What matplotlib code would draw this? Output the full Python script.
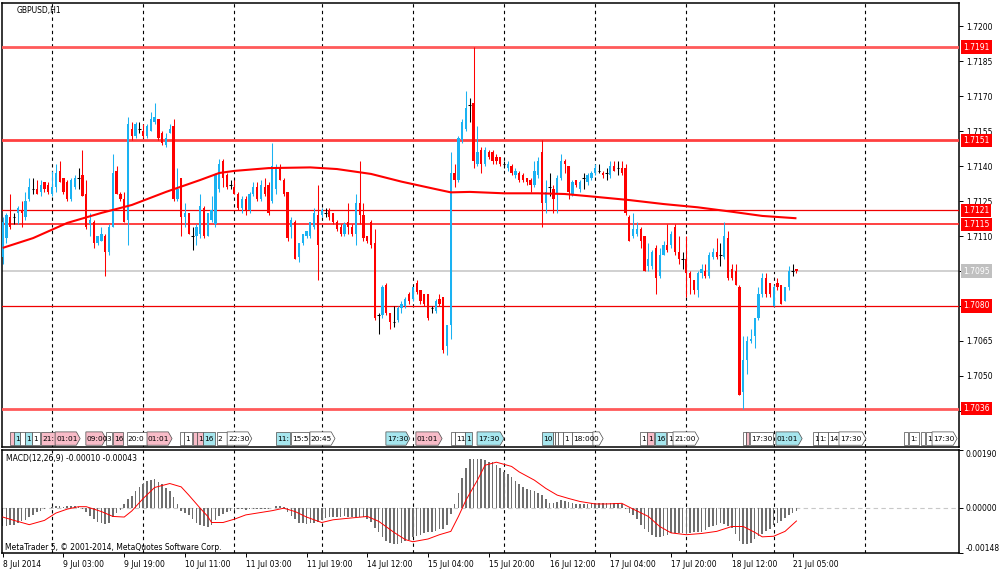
import numpy as np
import matplotlib
matplotlib.use("Agg")
import matplotlib.pyplot as plt
from matplotlib.patches import Polygon

plt.rcParams['font.family'] = ['DejaVu Sans']
plt.rcParams['font.size'] = 5.5

# GBPUSD H1 bars, bar 0 = 8 Jul 2014 11:00 ... bar 209 = 21 Jul 2014 06:00
opens = [
    1.7101, 1.7109, 1.7118, 1.7118, 1.7120, 1.7121, 1.7118, 1.7126, 1.7130, 1.7130,
    1.7129, 1.7133, 1.7132, 1.7128, 1.7131, 1.7138, 1.7135, 1.7133, 1.7126, 1.7131,
    1.7135, 1.7136, 1.7128, 1.7115, 1.7116, 1.7107, 1.7108, 1.7110, 1.7103, 1.7114,
    1.7138, 1.7128, 1.7126, 1.7117, 1.7156, 1.7153, 1.7156, 1.7155, 1.7153, 1.7155,
    1.7159, 1.7160, 1.7154, 1.7149, 1.7154, 1.7157, 1.7126, 1.7135, 1.7118, 1.7120,
    1.7110, 1.7110, 1.7111, 1.7122, 1.7110, 1.7117, 1.7115, 1.7130, 1.7142, 1.7136,
    1.7132, 1.7131, 1.7128, 1.7122, 1.7126, 1.7121, 1.7128, 1.7131, 1.7126, 1.7131,
    1.7132, 1.7125, 1.7130, 1.7139, 1.7134, 1.7129, 1.7114, 1.7116, 1.7101, 1.7107,
    1.7110, 1.7110, 1.7114, 1.7119, 1.7119, 1.7120, 1.7121, 1.7120, 1.7116, 1.7114,
    1.7111, 1.7116, 1.7114, 1.7111, 1.7124, 1.7119, 1.7110, 1.7116, 1.7107, 1.7076,
    1.7076, 1.7089, 1.7077, 1.7073, 1.7074, 1.7079, 1.7080, 1.7085, 1.7083, 1.7090,
    1.7087, 1.7085, 1.7085, 1.7079, 1.7078, 1.7083, 1.7084, 1.7063, 1.7072, 1.7137,
    1.7134, 1.7151, 1.7156, 1.7166, 1.7167, 1.7141, 1.7147, 1.7141, 1.7146, 1.7146,
    1.7144, 1.7144, 1.7141, 1.7139, 1.7140, 1.7136, 1.7137, 1.7136, 1.7135, 1.7134,
    1.7132, 1.7136, 1.7146, 1.7124, 1.7131, 1.7130, 1.7128, 1.7135, 1.7142, 1.7140,
    1.7128, 1.7134, 1.7130, 1.7135, 1.7133, 1.7135, 1.7137, 1.7138, 1.7137, 1.7137,
    1.7136, 1.7140, 1.7139, 1.7139, 1.7139, 1.7118, 1.7110, 1.7111, 1.7113, 1.7110,
    1.7097, 1.7097, 1.7105, 1.7093, 1.7102, 1.7106, 1.7106, 1.7114, 1.7103, 1.7100,
    1.7100, 1.7094, 1.7091, 1.7087, 1.7094, 1.7095, 1.7093, 1.7101, 1.7103, 1.7102,
    1.7101, 1.7109, 1.7096, 1.7095, 1.7088, 1.7043, 1.7057, 1.7065, 1.7067, 1.7075,
    1.7085, 1.7092, 1.7090, 1.7080, 1.7090, 1.7089, 1.7082, 1.7088, 1.7095, 1.7096,
]
highs = [
    1.7118, 1.7120, 1.7128, 1.7120, 1.7123, 1.7125, 1.7129, 1.7135, 1.7135, 1.7134,
    1.7134, 1.7133, 1.7133, 1.7138, 1.7141, 1.7142, 1.7135, 1.7134, 1.7135, 1.7136,
    1.7139, 1.7147, 1.7134, 1.7120, 1.7117, 1.7110, 1.7114, 1.7111, 1.7115, 1.7145,
    1.7140, 1.7129, 1.7129, 1.7161, 1.7159, 1.7159, 1.7159, 1.7158, 1.7158, 1.7163,
    1.7167, 1.7160, 1.7155, 1.7154, 1.7158, 1.7160, 1.7139, 1.7135, 1.7124, 1.7120,
    1.7114, 1.7115, 1.7128, 1.7123, 1.7120, 1.7127, 1.7137, 1.7143, 1.7143, 1.7137,
    1.7134, 1.7134, 1.7129, 1.7127, 1.7127, 1.7129, 1.7133, 1.7133, 1.7134, 1.7135,
    1.7133, 1.7150, 1.7141, 1.7141, 1.7135, 1.7129, 1.7118, 1.7117, 1.7107, 1.7111,
    1.7112, 1.7116, 1.7122, 1.7132, 1.7122, 1.7122, 1.7122, 1.7120, 1.7117, 1.7115,
    1.7116, 1.7124, 1.7115, 1.7128, 1.7142, 1.7124, 1.7110, 1.7117, 1.7113, 1.7077,
    1.7089, 1.7090, 1.7077, 1.7080, 1.7080, 1.7082, 1.7084, 1.7086, 1.7088, 1.7091,
    1.7087, 1.7085, 1.7085, 1.7080, 1.7083, 1.7085, 1.7084, 1.7072, 1.7146, 1.7141,
    1.7153, 1.7160, 1.7172, 1.7169, 1.7191, 1.7157, 1.7148, 1.7148, 1.7147, 1.7147,
    1.7145, 1.7144, 1.7142, 1.7142, 1.7141, 1.7139, 1.7138, 1.7137, 1.7135, 1.7135,
    1.7142, 1.7144, 1.7151, 1.7134, 1.7137, 1.7132, 1.7136, 1.7145, 1.7143, 1.7140,
    1.7134, 1.7134, 1.7134, 1.7137, 1.7137, 1.7138, 1.7141, 1.7141, 1.7138, 1.7139,
    1.7142, 1.7142, 1.7142, 1.7142, 1.7141, 1.7119, 1.7120, 1.7116, 1.7114, 1.7110,
    1.7107, 1.7104, 1.7106, 1.7105, 1.7108, 1.7115, 1.7112, 1.7115, 1.7110, 1.7103,
    1.7110, 1.7095, 1.7091, 1.7095, 1.7098, 1.7098, 1.7103, 1.7105, 1.7109, 1.7107,
    1.7116, 1.7112, 1.7098, 1.7098, 1.7089, 1.7067, 1.7067, 1.7070, 1.7075, 1.7088,
    1.7094, 1.7094, 1.7090, 1.7089, 1.7092, 1.7089, 1.7088, 1.7097, 1.7098, 1.7096,
]
lows = [
    1.7098, 1.7107, 1.7113, 1.7115, 1.7115, 1.7114, 1.7117, 1.7125, 1.7128, 1.7128,
    1.7127, 1.7129, 1.7128, 1.7127, 1.7129, 1.7133, 1.7128, 1.7125, 1.7125, 1.7130,
    1.7130, 1.7127, 1.7113, 1.7110, 1.7105, 1.7106, 1.7108, 1.7093, 1.7102, 1.7114,
    1.7128, 1.7125, 1.7116, 1.7106, 1.7151, 1.7152, 1.7154, 1.7152, 1.7152, 1.7155,
    1.7158, 1.7151, 1.7149, 1.7148, 1.7154, 1.7125, 1.7125, 1.7110, 1.7114, 1.7111,
    1.7104, 1.7106, 1.7109, 1.7109, 1.7110, 1.7116, 1.7114, 1.7129, 1.7131, 1.7130,
    1.7130, 1.7128, 1.7121, 1.7120, 1.7119, 1.7120, 1.7127, 1.7125, 1.7125, 1.7127,
    1.7119, 1.7124, 1.7128, 1.7134, 1.7127, 1.7108, 1.7109, 1.7100, 1.7099, 1.7106,
    1.7109, 1.7109, 1.7113, 1.7091, 1.7118, 1.7118, 1.7117, 1.7115, 1.7112, 1.7110,
    1.7110, 1.7111, 1.7110, 1.7106, 1.7115, 1.7108, 1.7107, 1.7105, 1.7074, 1.7068,
    1.7075, 1.7076, 1.7070, 1.7071, 1.7073, 1.7077, 1.7079, 1.7081, 1.7082, 1.7085,
    1.7081, 1.7080, 1.7074, 1.7077, 1.7077, 1.7080, 1.7060, 1.7059, 1.7066, 1.7131,
    1.7133, 1.7150, 1.7155, 1.7159, 1.7139, 1.7140, 1.7137, 1.7140, 1.7143, 1.7141,
    1.7141, 1.7140, 1.7139, 1.7138, 1.7136, 1.7135, 1.7133, 1.7133, 1.7132, 1.7129,
    1.7131, 1.7135, 1.7114, 1.7120, 1.7127, 1.7120, 1.7120, 1.7134, 1.7137, 1.7126,
    1.7127, 1.7131, 1.7129, 1.7130, 1.7132, 1.7134, 1.7136, 1.7137, 1.7135, 1.7134,
    1.7135, 1.7138, 1.7136, 1.7136, 1.7119, 1.7108, 1.7109, 1.7110, 1.7105, 1.7095,
    1.7095, 1.7096, 1.7085, 1.7092, 1.7102, 1.7103, 1.7105, 1.7102, 1.7098, 1.7096,
    1.7084, 1.7085, 1.7085, 1.7084, 1.7092, 1.7092, 1.7092, 1.7100, 1.7100, 1.7097,
    1.7100, 1.7091, 1.7091, 1.7089, 1.7042, 1.7036, 1.7051, 1.7064, 1.7062, 1.7074,
    1.7084, 1.7084, 1.7084, 1.7080, 1.7087, 1.7081, 1.7082, 1.7087, 1.7093, 1.7094,
]
closes = [
    1.7116, 1.7119, 1.7114, 1.7118, 1.7122, 1.7120, 1.7125, 1.7131, 1.7130, 1.7128,
    1.7132, 1.7130, 1.7129, 1.7131, 1.7137, 1.7133, 1.7129, 1.7126, 1.7134, 1.7135,
    1.7135, 1.7127, 1.7114, 1.7117, 1.7107, 1.7110, 1.7111, 1.7103, 1.7114, 1.7137,
    1.7128, 1.7126, 1.7116, 1.7158, 1.7153, 1.7158, 1.7156, 1.7153, 1.7157, 1.7160,
    1.7161, 1.7152, 1.7150, 1.7152, 1.7156, 1.7126, 1.7130, 1.7118, 1.7120, 1.7111,
    1.7110, 1.7114, 1.7123, 1.7110, 1.7120, 1.7121, 1.7136, 1.7141, 1.7135, 1.7131,
    1.7132, 1.7128, 1.7122, 1.7126, 1.7121, 1.7128, 1.7131, 1.7126, 1.7132, 1.7128,
    1.7120, 1.7140, 1.7139, 1.7134, 1.7128, 1.7109, 1.7117, 1.7100, 1.7107, 1.7111,
    1.7112, 1.7116, 1.7120, 1.7106, 1.7121, 1.7120, 1.7118, 1.7116, 1.7113, 1.7111,
    1.7115, 1.7114, 1.7111, 1.7124, 1.7119, 1.7109, 1.7108, 1.7106, 1.7075, 1.7076,
    1.7088, 1.7077, 1.7073, 1.7073, 1.7079, 1.7081, 1.7083, 1.7082, 1.7088, 1.7086,
    1.7082, 1.7081, 1.7075, 1.7079, 1.7082, 1.7081, 1.7061, 1.7072, 1.7137, 1.7134,
    1.7152, 1.7159, 1.7165, 1.7166, 1.7142, 1.7146, 1.7141, 1.7147, 1.7144, 1.7142,
    1.7142, 1.7141, 1.7141, 1.7141, 1.7137, 1.7138, 1.7134, 1.7134, 1.7133, 1.7132,
    1.7138, 1.7142, 1.7124, 1.7129, 1.7131, 1.7126, 1.7135, 1.7142, 1.7141, 1.7129,
    1.7133, 1.7132, 1.7133, 1.7135, 1.7136, 1.7137, 1.7139, 1.7138, 1.7136, 1.7137,
    1.7140, 1.7138, 1.7139, 1.7137, 1.7120, 1.7108, 1.7113, 1.7113, 1.7108, 1.7095,
    1.7100, 1.7103, 1.7092, 1.7102, 1.7106, 1.7104, 1.7111, 1.7103, 1.7100, 1.7100,
    1.7094, 1.7092, 1.7087, 1.7094, 1.7096, 1.7093, 1.7102, 1.7103, 1.7101, 1.7102,
    1.7110, 1.7092, 1.7092, 1.7089, 1.7042, 1.7057, 1.7065, 1.7066, 1.7075, 1.7085,
    1.7092, 1.7085, 1.7085, 1.7088, 1.7088, 1.7081, 1.7088, 1.7095, 1.7095, 1.7095,
]

# moving average read at a few bars
ma_bars = [0, 8, 17, 26, 34, 43, 52, 57, 61, 70, 81, 88, 97, 105, 114, 118, 123,
           132, 141, 148, 156, 165, 174, 183, 192, 200, 209]
ma_vals = [1.71049, 1.71091, 1.71156, 1.71199, 1.71233, 1.71289, 1.71340, 1.71370,
           1.71379, 1.71391, 1.71394, 1.71387, 1.71366, 1.71333, 1.71301, 1.71287,
           1.71289, 1.71283, 1.71283, 1.71280, 1.71268, 1.71254, 1.71237, 1.71223,
           1.71204, 1.71186, 1.71176]

levels = [1.7191, 1.7151, 1.7121, 1.7115, 1.7080, 1.7036]
last_price = 1.7095
price_ticks = [1.7200, 1.7185, 1.7170, 1.7155, 1.7140, 1.7125, 1.7110, 1.7095,
               1.7080, 1.7065, 1.7050, 1.7035]

# MACD main (histogram), in units of 1e-5
macd_hist = [
    -58, -58, -57, -55, -49, -43, -39, -30, -22, -15,
    -10, -4, -1, 2, 5, 6, 4, 7, 6, 5,
    4, -3, -13, -27, -38, -45, -50, -52, -48, -30,
    -17, -6, 12, 28, 40, 55, 70, 80, 87, 92,
    94, 86, 78, 66, 56, 36, 14, -10, -18, -24,
    -38, -48, -55, -60, -62, -57, -40, -28, -20, -15,
    -10, -7, -4, -5, -6, -5, -3, -4, -3, -2,
    -2, 0, 5, 6, 2, -13, -25, -38, -48, -51,
    -52, -50, -48, -46, -40, -33, -30, -29, -29, -29,
    -28, -29, -30, -29, -30, -31, -35, -45, -65, -78,
    -95, -108, -116, -120, -118, -115, -110, -104, -97, -93,
    -90, -83, -80, -78, -75, -70, -68, -55, -20, 13,
    49, 97, 130, 159, 160, 159, 159, 156, 152, 150,
    140, 130, 118, 110, 101, 88, 78, 68, 62, 58,
    54, 48, 42, 29, 16, 16, 20, 26, 23, 18,
    15, 13, 13, 13, 14, 16, 16, 16, 16, 16,
    15, 16, 16, 13, -4, -16, -24, -38, -55, -68,
    -80, -88, -94, -94, -93, -88, -84, -82, -81, -81,
    -81, -81, -80, -79, -78, -72, -64, -60, -55, -50,
    -52, -60, -66, -85, -108, -118, -117, -115, -103, -92,
    -85, -76, -68, -55, -48, -42, -33, -24, -16, -10,
]
# signal line, read at a few bars, units of 1e-5
signal_bars = [0, 3, 7, 11, 14, 17, 20, 22, 26, 29, 32, 34, 37, 40, 44, 47, 49, 52,
               54, 55, 58, 61, 64, 68, 71, 74, 77, 80, 84, 87, 91, 96, 99, 103, 106,
               108, 112, 115, 118, 120, 122, 125, 127, 130, 134, 136, 140, 143, 146,
               149, 152, 156, 159, 163, 166, 170, 173, 176, 180, 184, 188, 192, 195,
               198, 200, 203, 206, 209]
signal_vals = [-30, -41, -55, -41, -17, -4, 4, 4, -12, -28, -30, -10, 31, 67, 80, 69,
               42, -1, -28, -48, -48, -37, -23, -15, -9, -1, -12, -30, -48, -39, -34,
               -28, -44, -80, -104, -111, -102, -88, -77, -28, 26, 91, 140, 150, 136,
               118, 91, 64, 42, 31, 21, 13, 13, 15, -4, -28, -61, -82, -88, -84, -77,
               -61, -61, -80, -95, -93, -77, -43]

time_bars = [0, 16, 32, 48, 64, 80, 96, 112, 128, 144, 160, 176, 192, 208]
time_labels = ['8 Jul 2014', '9 Jul 03:00', '9 Jul 19:00', '10 Jul 11:00',
               '11 Jul 03:00', '11 Jul 19:00', '14 Jul 12:00', '15 Jul 04:00',
               '15 Jul 20:00', '16 Jul 12:00', '17 Jul 04:00', '17 Jul 20:00',
               '18 Jul 12:00', '21 Jul 05:00']
day_bars = [13, 37, 61, 84, 108, 132, 156, 180, 203, 227]

# calendar event tags along the bottom of the price window
ev_start = [1.8, 3.0, 4.6, 5.9, 7.7, 10.1, 13.8, 21.9, 27.2, 29.0, 32.7, 38.0,
            46.7, 47.7, 50.1, 51.2, 52.7, 56.4, 59.1, 72.0, 75.9, 80.9, 100.9,
            108.8, 118.0, 119.1, 121.7, 124.9, 142.0, 144.9, 145.5, 146.2, 147.5,
            149.9, 155.4, 167.8, 169.6, 171.7, 174.9, 176.5, 194.9, 195.7, 196.8,
            203.6, 213.4, 214.7, 217.3, 220.2, 237.3, 238.6, 241.8, 243.1, 244.7]
ev_end = [3.0, 4.6, 5.9, 7.7, 9.8, 13.8, 20.4, 27.2, 28.8, 31.7, 38.0, 44.6,
          47.7, 49.9, 51.2, 52.7, 55.9, 59.1, 65.6, 75.7, 80.6, 87.5, 107.2,
          115.7, 119.1, 121.7, 123.6, 132.0, 144.9, 145.5, 146.2, 147.5, 149.9,
          155.4, 158.1, 169.6, 171.5, 174.6, 176.5, 183.3, 195.7, 196.5, 202.8,
          210.5, 214.7, 217.3, 220.2, 227.3, 238.4, 241.3, 242.8, 244.7, 251.3]
ev_text = ['', '1', '', '1', '1', '21:', '01:01', '09:00', '3', '16', '20:0', '01:01',
           '', '1', '', '1', '16', '2', '22:30', '11:', '15:5', '20:45', '17:30',
           '01:01', '', '11', '1', '17:30', '10', '', '', '', '1',
           '18:00', '0', '1', '1', '16', '1', '21:00', '', '', '17:30',
           '01:01', '1', '1:', '14', '17:30', '', '1:', '', '1', '17:30']
ev_kind = ['p', 'b', 'w', 'b', 'w', 'p', 'p', 'p', 'w', 'p', 'w', 'p',
           'w', 'w', 'p', 'p', 'b', 'w', 'w', 'b', 'w', 'w', 'b',
           'p', 'w', 'w', 'b', 'b', 'b', 'w', 'w', 'w', 'w',
           'w', 'w', 'w', 'p', 'b', 'w', 'w', 'w', 'p', 'w',
           'b', 'w', 'w', 'w', 'w', 'w', 'w', 'w', 'w', 'w']
ev_arrow = [0, 0, 0, 0, 0, 0, 1, 1, 0, 0, 0, 1,
            0, 0, 0, 0, 0, 0, 1, 0, 0, 1, 1,
            1, 0, 0, 0, 1, 0, 0, 0, 0, 0,
            0, 1, 0, 0, 0, 0, 1, 0, 0, 0,
            1, 0, 0, 0, 1, 0, 0, 0, 0, 1]

BULL = '#1AB2F2'
BEAR = '#FF0000'
EV_COLORS = {'p': '#F8BCC8', 'b': '#A6E6EE', 'w': '#FFFFFF'}

W, H = 1000, 574
def px_box(l, t, r, b):
    return [l / W, 1 - b / H, (r - l) / W, (b - t) / H]

fig = plt.figure(figsize=(10, 5.74), dpi=100)
ax = fig.add_axes(px_box(2, 3, 959, 447))
mx = fig.add_axes(px_box(2, 450, 959, 553), sharex=ax)

o = np.array(opens)
h = np.array(highs)
l = np.array(lows)
c = np.array(closes)
idx = np.arange(len(c))
up = c > o
dn = c < o
dj = ~(up | dn)

for mask, col in ((up, BULL), (dn, BEAR), (dj, 'black')):
    ax.vlines(idx[mask], l[mask], h[mask], color=col, lw=0.75, zorder=4)
body_bot = np.minimum(o, c)
body_h = np.maximum(np.abs(c - o), 0.00005)
ax.bar(idx[up], body_h[up], bottom=body_bot[up], width=0.6, color=BULL, lw=0, zorder=4)
ax.bar(idx[dn], body_h[dn], bottom=body_bot[dn], width=0.6, color=BEAR, lw=0, zorder=4)
ax.hlines(c[dj], idx[dj] - 0.35, idx[dj] + 0.35, color='black', lw=0.75, zorder=4)

ax.plot(ma_bars, ma_vals, color='#FF0000', lw=1.5, zorder=5, solid_capstyle='butt')

# horizontal levels
level_lw = {1.7191: 2.0, 1.7151: 2.0, 1.7121: 0.9, 1.7115: 1.2, 1.7080: 0.9, 1.7036: 2.0}
level_col = {1.7191: '#FF5A5A', 1.7151: '#FF4040', 1.7121: '#F00000', 1.7115: '#FF2020',
             1.7080: '#F00000', 1.7036: '#FF5A5A'}
for lv in levels:
    ax.axhline(lv, color=level_col[lv], lw=level_lw[lv], zorder=3)
ax.axhline(last_price, color='#C8C8C8', lw=1.2, zorder=2)

ylab = ax.get_yaxis_transform()
for lv in levels:
    ax.text(1.0 + 4 / 957, lv, f'{lv:.4f}', transform=ylab, ha='left', va='center',
            color='white', size=5.5, clip_on=False, zorder=10,
            bbox=dict(boxstyle='square,pad=0.28', fc='#FF0000', ec='none'))
ax.text(1.0 + 4 / 957, last_price, f'{last_price:.4f}', transform=ylab, ha='left',
        va='center', color='white', size=5.5, clip_on=False, zorder=10,
        bbox=dict(boxstyle='square,pad=0.28', fc='#C0C0C0', ec='none'))

# day separators
for d in day_bars:
    ax.axvline(d, color='black', lw=0.8, ls=(0, (3, 3)), zorder=1)
    mx.axvline(d, color='black', lw=0.8, ls=(0, (3, 3)), zorder=1)

# event tags
strip = ax.get_xaxis_transform()
y0, y1 = 0.004, 0.034
ym = (y0 + y1) / 2
for s, e, txt, kind, arr in zip(ev_start, ev_end, ev_text, ev_kind, ev_arrow):
    if arr:
        pts = [(s, y0), (e - 1.0, y0), (e, ym), (e - 1.0, y1), (s, y1)]
    else:
        pts = [(s, y0), (e, y0), (e, y1), (s, y1)]
    ax.add_patch(Polygon(pts, closed=True, transform=strip, fc=EV_COLORS[kind],
                         ec='#4A4A4A', lw=0.5, zorder=6))
    if txt:
        ax.text(s + 0.25, ym, txt, transform=strip, ha='left', va='center',
                size=5.3, color='black', zorder=7)

ax.set_xlim(-0.18, 251.8)
ax.set_ylim(1.701957, 1.720986)
ax.yaxis.tick_right()
ax.set_yticks(price_ticks)
# tick labels that sit under a price tag are covered in the terminal, so leave them blank
covered = [last_price] + levels
ax.set_yticklabels(['' if any(abs(t - lv) < 0.00025 for lv in covered) else f'{t:.4f}'
                    for t in price_ticks])
ax.tick_params(axis='y', direction='out', length=3, width=0.7, pad=2, labelsize=5.5)
ax.tick_params(axis='x', bottom=False, labelbottom=False)
for sp in ax.spines.values():
    sp.set_linewidth(1.1)

ax.text(15 / 957, 1 - 7 / 444, 'GBPUSD,H1', transform=ax.transAxes, ha='left',
        va='center', size=5.5)

# MACD window
hist = np.array(macd_hist) * 1e-5
mx.axhline(0, color='#C8C8C8', lw=0.8, ls=(0, (4, 3)), zorder=1)
mx.bar(idx, hist, width=0.42, color='#6E6E6E', lw=0, zorder=2)
mx.plot(signal_bars, np.array(signal_vals) * 1e-5, color='#FF0000', lw=0.7, zorder=3)
mx.set_ylim(-0.00148, 0.00190)
mx.yaxis.tick_right()
mx.set_yticks([-0.00148, 0.0, 0.00190])
mx.set_yticklabels(['-0.00148', '0.00000', '0.00190'])
mx.tick_params(axis='y', direction='out', length=3, width=0.7, pad=2, labelsize=5.5)
labs = mx.get_yticklabels()
labs[0].set_va('bottom')
labs[2].set_va('top')
mx.set_xticks(time_bars)
mx.set_xticklabels(time_labels, ha='left')
mx.tick_params(axis='x', direction='out', length=3, width=0.7, pad=2, labelsize=5.5)
for sp in mx.spines.values():
    sp.set_linewidth(1.1)

mx.text(4 / 957, 1 - 8 / 103, 'MACD(12,26,9) -0.00010 -0.00043', transform=mx.transAxes,
        ha='left', va='center', size=5.5)
mx.text(3 / 957, 6 / 103, 'MetaTrader 5, \u00a9 2001-2014, MetaQuotes Software Corp.',
        transform=mx.transAxes, ha='left', va='center', size=5.5)

fig.savefig('out.png', dpi=100, facecolor='white')
